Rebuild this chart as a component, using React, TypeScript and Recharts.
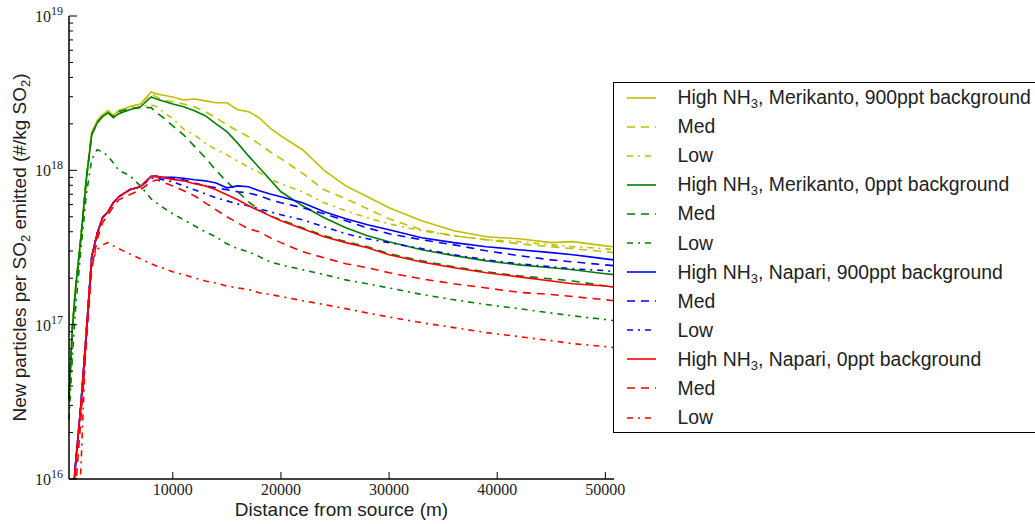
import { LineChart, Line, XAxis, YAxis, Legend, Label } from "recharts";

// distance from source (m)
const distance = [
  400, 700, 1000, 1500, 2000, 2500, 3000, 3500, 4000, 4500, 5000, 6000, 7000, 8000, 8500, 9000, 10000,
  11000, 12000, 13000, 14000, 15000, 16000, 17000, 18000, 19000, 20000, 22000, 24000, 26000, 28000,
  30000, 33000, 36000, 39000, 42000, 45000, 47000, 50000, 50800,
];

// Merikanto, 900ppt background
const merikanto900High = [
  3.27e16, 9.3e16, 1.69e17, 3.66e17, 8.74e17, 1.75e18, 2.09e18, 2.29e18, 2.43e18, 2.26e18, 2.43e18,
  2.58e18, 2.69e18, 3.22e18, 3.13e18, 3.08e18, 2.99e18, 2.86e18, 2.9e18, 2.82e18, 2.74e18, 2.74e18,
  2.47e18, 2.4e18, 2.19e18, 1.88e18, 1.67e18, 1.36e18, 1.0e18, 7.93e17, 6.74e17, 5.72e17, 4.71e17,
  4.06e17, 3.71e17, 3.6e17, 3.4e17, 3.45e17, 3.24e17, 3.2e17,
];
const merikanto900Med = [
  3.27e16, 9.3e16, 1.69e17, 3.66e17, 8.74e17, 1.75e18, 2.09e18, 2.29e18, 2.43e18, 2.26e18, 2.43e18,
  2.58e18, 2.69e18, 3.13e18, 2.99e18, 2.86e18, 2.78e18, 2.69e18, 2.58e18, 2.4e18, 2.19e18, 1.97e18,
  1.8e18, 1.65e18, 1.48e18, 1.32e18, 1.19e18, 9.56e17, 7.48e17, 6.54e17, 5.63e17, 4.85e17, 4.12e17,
  3.77e17, 3.55e17, 3.34e17, 3.2e17, 3.11e17, 2.97e17, 2.93e17,
];
const merikanto900Low = [
  3.27e16, 9.3e16, 1.69e17, 3.66e17, 8.74e17, 1.7e18, 2.03e18, 2.23e18, 2.36e18, 2.19e18, 2.33e18,
  2.47e18, 2.58e18, 2.65e18, 2.58e18, 2.43e18, 2.16e18, 1.85e18, 1.7e18, 1.5e18, 1.36e18, 1.26e18,
  1.15e18, 1.05e18, 9.7e17, 8.74e17, 8.18e17, 7.26e17, 6.16e17, 5.47e17, 4.93e17, 4.5e17, 4.06e17,
  3.77e17, 3.55e17, 3.45e17, 3.29e17, 3.2e17, 3.11e17, 3.06e17,
];

// Merikanto, 0ppt background
const merikanto0High = [
  3.27e16, 9.3e16, 1.69e17, 3.66e17, 8.74e17, 1.7e18, 2.03e18, 2.23e18, 2.36e18, 2.19e18, 2.33e18,
  2.47e18, 2.58e18, 2.99e18, 2.9e18, 2.82e18, 2.69e18, 2.58e18, 2.43e18, 2.26e18, 2.0e18, 1.78e18,
  1.5e18, 1.24e18, 1.04e18, 8.68e17, 7.26e17, 5.89e17, 4.93e17, 4.24e17, 3.77e17, 3.45e17, 3.06e17,
  2.8e17, 2.59e17, 2.44e17, 2.34e17, 2.27e17, 2.14e17, 2.11e17,
];
const merikanto0Med = [
  3.27e16, 9.3e16, 1.69e17, 3.66e17, 8.74e17, 1.7e18, 2.03e18, 2.23e18, 2.36e18, 2.23e18, 2.4e18,
  2.51e18, 2.55e18, 2.55e18, 2.36e18, 2.23e18, 1.94e18, 1.7e18, 1.43e18, 1.21e18, 1.0e18, 8.43e17,
  7.26e17, 6.25e17, 5.55e17, 5.07e17, 4.78e17, 4.24e17, 3.77e17, 3.45e17, 3.2e17, 2.88e17, 2.59e17,
  2.37e17, 2.2e17, 2.07e17, 1.98e17, 1.92e17, 1.78e17, 1.75e17,
];
const merikanto0Low = [
  2.43e16, 5.94e16, 1.25e17, 3.06e17, 6.94e17, 1.17e18, 1.36e18, 1.32e18, 1.23e18, 1.12e18, 1.0e18,
  9.28e17, 7.93e17, 6.54e17, 6.16e17, 5.8e17, 5.23e17, 4.78e17, 4.37e17, 4.0e17, 3.71e17, 3.34e17,
  3.11e17, 2.97e17, 2.76e17, 2.55e17, 2.44e17, 2.27e17, 2.11e17, 1.95e17, 1.84e17, 1.73e17, 1.57e17,
  1.45e17, 1.35e17, 1.27e17, 1.19e17, 1.14e17, 1.08e17, 1.06e17,
];

// Napari, 900ppt background
const napari900High = [
  4.05e15, 6.87e15, 1.24e16, 3.03e16, 8.88e16, 2.76e17, 3.88e17, 4.93e17, 5.39e17, 6.16e17, 6.74e17,
  7.48e17, 7.82e17, 9.14e17, 9.14e17, 9.0e17, 9.01e17, 8.88e17, 8.68e17, 8.55e17, 8.29e17, 7.7e17,
  7.93e17, 7.82e17, 7.37e17, 7.03e17, 6.74e17, 6.16e17, 5.39e17, 4.85e17, 4.44e17, 4.12e17, 3.66e17,
  3.4e17, 3.2e17, 3.06e17, 2.93e17, 2.84e17, 2.67e17, 2.63e17,
];
const napari900Med = [
  4.05e15, 6.87e15, 1.24e16, 3.03e16, 8.88e16, 2.76e17, 3.88e17, 4.93e17, 5.39e17, 6.16e17, 6.74e17,
  7.48e17, 7.82e17, 9.14e17, 9.14e17, 9.0e17, 8.88e17, 8.68e17, 8.29e17, 7.93e17, 7.7e17, 7.48e17,
  7.26e17, 7.14e17, 6.84e17, 6.44e17, 6.16e17, 5.72e17, 5.23e17, 4.71e17, 4.24e17, 3.88e17, 3.55e17,
  3.29e17, 3.01e17, 2.8e17, 2.63e17, 2.55e17, 2.44e17, 2.41e17,
];
const napari900Low = [
  4.05e15, 6.87e15, 1.24e16, 3.03e16, 8.88e16, 2.76e17, 3.88e17, 4.93e17, 5.39e17, 6.16e17, 6.74e17,
  7.48e17, 7.82e17, 8.88e17, 8.88e17, 8.74e17, 8.43e17, 7.93e17, 7.48e17, 7.03e17, 6.64e17, 6.34e17,
  6.06e17, 5.89e17, 5.63e17, 5.39e17, 5.15e17, 4.78e17, 4.31e17, 3.88e17, 3.6e17, 3.4e17, 3.11e17,
  2.84e17, 2.63e17, 2.48e17, 2.37e17, 2.3e17, 2.24e17, 2.2e17,
];

// Napari, 0ppt background
const napari0High = [
  4.05e15, 6.87e15, 1.24e16, 3.03e16, 8.88e16, 2.76e17, 3.88e17, 4.93e17, 5.39e17, 6.16e17, 6.74e17,
  7.48e17, 7.82e17, 9.14e17, 9.14e17, 9.0e17, 8.74e17, 8.55e17, 8.18e17, 7.93e17, 7.48e17, 6.94e17,
  6.44e17, 5.89e17, 5.47e17, 5.07e17, 4.71e17, 4.18e17, 3.71e17, 3.4e17, 3.15e17, 2.84e17, 2.55e17,
  2.34e17, 2.17e17, 2.04e17, 1.92e17, 1.84e17, 1.78e17, 1.75e17,
];
const napari0Med = [
  3.0e15, 4.7e15, 8.5e15, 2.43e16, 7.42e16, 2.27e17, 3.55e17, 4.57e17, 5.15e17, 5.8e17, 6.44e17,
  6.94e17, 7.48e17, 8.43e17, 8.68e17, 8.43e17, 7.93e17, 7.37e17, 6.84e17, 6.16e17, 5.55e17, 5.0e17,
  4.57e17, 4.18e17, 4.0e17, 3.66e17, 3.4e17, 2.97e17, 2.71e17, 2.48e17, 2.34e17, 2.17e17, 1.98e17,
  1.84e17, 1.73e17, 1.62e17, 1.57e17, 1.52e17, 1.45e17, 1.43e17,
];
const napari0Low = [
  1.65e15, 2.2e15, 3.5e15, 1.15e16, 9.29e16, 2.55e17, 3.06e17, 3.29e17, 3.4e17, 3.24e17, 3.11e17,
  2.88e17, 2.67e17, 2.48e17, 2.4e17, 2.34e17, 2.2e17, 2.11e17, 2.01e17, 1.92e17, 1.86e17, 1.78e17,
  1.73e17, 1.69e17, 1.61e17, 1.57e17, 1.52e17, 1.43e17, 1.35e17, 1.27e17, 1.19e17, 1.12e17, 1.03e17,
  9.57e16, 8.88e16, 8.37e16, 7.88e16, 7.53e16, 7.21e16, 7.1e16,
];

const X_TICKS = [10000, 20000, 30000, 40000, 50000];
const Y_TICKS = [
  1e16, 2e16, 3e16, 4e16, 5e16, 6e16, 7e16, 8e16, 9e16,
  1e17, 2e17, 3e17, 4e17, 5e17, 6e17, 7e17, 8e17, 9e17,
  1e18, 2e18, 3e18, 4e18, 5e18, 6e18, 7e18, 8e18, 9e18,
  1e19,
];

const YELLOW = "#bfbf00";
const GREEN = "#008000";
const BLUE = "#0000ff";
const RED = "#ff0000";
const DASHED = "8 6";
const DASHDOT = "6 5 2 5";

const SERIES = [
  { key: "m900h", label: "High NH3, Merikanto, 900ppt background", values: merikanto900High, color: YELLOW, dash: undefined },
  { key: "m900m", label: "Med", values: merikanto900Med, color: YELLOW, dash: DASHED },
  { key: "m900l", label: "Low", values: merikanto900Low, color: YELLOW, dash: DASHDOT },
  { key: "m0h", label: "High NH3, Merikanto, 0ppt background", values: merikanto0High, color: GREEN, dash: undefined },
  { key: "m0m", label: "Med", values: merikanto0Med, color: GREEN, dash: DASHED },
  { key: "m0l", label: "Low", values: merikanto0Low, color: GREEN, dash: DASHDOT },
  { key: "n900h", label: "High NH3, Napari, 900ppt background", values: napari900High, color: BLUE, dash: undefined },
  { key: "n900m", label: "Med", values: napari900Med, color: BLUE, dash: DASHED },
  { key: "n900l", label: "Low", values: napari900Low, color: BLUE, dash: DASHDOT },
  { key: "n0h", label: "High NH3, Napari, 0ppt background", values: napari0High, color: RED, dash: undefined },
  { key: "n0m", label: "Med", values: napari0Med, color: RED, dash: DASHED },
  { key: "n0l", label: "Low", values: napari0Low, color: RED, dash: DASHDOT },
];

const data = distance.map((d, i) => {
  const row: Record<string, number> = { d };
  SERIES.forEach((s) => {
    row[s.key] = s.values[i];
  });
  return row;
});

const SANS = "'Liberation Sans', Arial, sans-serif";
const SERIF = "'Liberation Serif', 'DejaVu Serif', serif";
const TEXT = "#222";

function isMajor(v: number) {
  const e = Math.log10(v);
  return Math.abs(e - Math.round(e)) < 1e-9;
}

function LeftTick(props: any) {
  const { x, y, payload } = props;
  const v = payload.value as number;
  const major = isMajor(v);
  return (
    <g>
      <line x1={x} y1={y} x2={x + (major ? 8 : 4)} y2={y} stroke="#000" strokeWidth={1} />
      {major && (
        <text x={x - 6} y={y + 6} textAnchor="end" fontFamily={SERIF} fontSize={16} fill={TEXT}>
          10
          <tspan dy={-7} fontSize={12}>
            {Math.round(Math.log10(v))}
          </tspan>
        </text>
      )}
    </g>
  );
}

function RightTick(props: any) {
  const { x, y, payload } = props;
  const major = isMajor(payload.value);
  return <line x1={x} y1={y} x2={x - (major ? 8 : 4)} y2={y} stroke="#000" strokeWidth={1} />;
}

function BottomTick(props: any) {
  const { x, y, payload } = props;
  return (
    <g>
      <line x1={x} y1={y} x2={x} y2={y - 7} stroke="#000" strokeWidth={1} />
      <text x={x} y={y + 16} textAnchor="middle" fontFamily={SERIF} fontSize={16} fill={TEXT}>
        {payload.value}
      </text>
    </g>
  );
}

function TopTick(props: any) {
  const { x, y } = props;
  return <line x1={x} y1={y} x2={x} y2={y + 7} stroke="#000" strokeWidth={1} />;
}

function XTitle(props: any) {
  const { x, y, width } = props.viewBox;
  return (
    <text x={x + width / 2} y={y + 37} textAnchor="middle" fontFamily={SANS} fontSize={19} fill={TEXT}>
      Distance from source (m)
    </text>
  );
}

function YTitle(props: any) {
  const { x, y, height } = props.viewBox;
  const cx = x + 26;
  const cy = y + height / 2;
  return (
    <text
      x={cx}
      y={cy}
      transform={`rotate(-90 ${cx} ${cy})`}
      textAnchor="middle"
      fontFamily={SANS}
      fontSize={19}
      fill={TEXT}
    >
      New particles per SO
      <tspan dy={4} fontSize={13}>2</tspan>
      <tspan dy={-4}> emitted (#/kg SO</tspan>
      <tspan dy={4} fontSize={13}>2</tspan>
      <tspan dy={-4}>)</tspan>
    </text>
  );
}

function renderLabel(label: string) {
  const i = label.indexOf("NH3");
  if (i < 0) return label;
  return (
    <>
      {label.slice(0, i)}NH<sub style={{ fontSize: 13, verticalAlign: "-4px", lineHeight: 0 }}>3</sub>
      {label.slice(i + 3)}
    </>
  );
}

function LegendBox() {
  return (
    <div
      style={{
        border: "1.5px solid #000",
        background: "#fff",
        width: 440,
        boxSizing: "border-box",
        fontFamily: SANS,
        fontSize: 19.4,
        color: TEXT,
      }}
    >
      {SERIES.map((s) => (
        <div key={s.key} style={{ height: 29.1, display: "flex", alignItems: "center" }}>
          <svg width={29} height={6} style={{ marginLeft: 12.5, marginRight: 22, flex: "none" }}>
            <line x1={0} y1={3} x2={29} y2={3} stroke={s.color} strokeWidth={1.6} strokeDasharray={s.dash} />
          </svg>
          <span style={{ whiteSpace: "nowrap" }}>{renderLabel(s.label)}</span>
        </div>
      ))}
    </div>
  );
}

export default function App() {
  return (
    <div
      style={{
        position: "absolute",
        left: 0,
        top: 0,
        width: 1035,
        height: 524,
        overflow: "hidden",
        background: "#fff",
      }}
    >
      <LineChart width={1035} height={524} data={data} margin={{ top: 16, right: 421, bottom: 0, left: 0 }}>
        <XAxis
          dataKey="d"
          type="number"
          domain={[400, 50800]}
          ticks={X_TICKS}
          interval={0}
          height={45}
          tickSize={0}
          tickMargin={0}
          tickLine={false}
          tick={(p: any) => <BottomTick {...p} />}
          axisLine={{ stroke: "#000", strokeWidth: 1.5 }}
        >
          <Label content={XTitle} />
        </XAxis>
        <XAxis
          xAxisId="top"
          orientation="top"
          dataKey="d"
          type="number"
          domain={[400, 50800]}
          allowDataOverflow
          ticks={X_TICKS}
          interval={0}
          height={0}
          tickSize={0}
          tickMargin={0}
          tickLine={false}
          tick={(p: any) => <TopTick {...p} />}
          axisLine={{ stroke: "#000", strokeWidth: 1.5 }}
        />
        <YAxis
          type="number"
          scale="log"
          domain={[1e16, 1e19]}
          allowDataOverflow
          ticks={Y_TICKS}
          interval={0}
          width={69}
          tickSize={0}
          tickMargin={0}
          tickLine={false}
          tick={(p: any) => <LeftTick {...p} />}
          axisLine={{ stroke: "#000", strokeWidth: 1.5 }}
        >
          <Label content={YTitle} />
        </YAxis>
        <YAxis
          yAxisId="right"
          orientation="right"
          type="number"
          scale="log"
          domain={[1e16, 1e19]}
          allowDataOverflow
          ticks={Y_TICKS}
          interval={0}
          width={0}
          tickSize={0}
          tickMargin={0}
          tickLine={false}
          tick={(p: any) => <RightTick {...p} />}
          axisLine={{ stroke: "#000", strokeWidth: 1.5 }}
        />
        <Legend
          layout="vertical"
          align="center"
          verticalAlign="middle"
          content={() => <LegendBox />}
          wrapperStyle={{ left: 613, top: 82, width: 440 }}
        />
        {SERIES.map((s) => (
          <Line
            key={s.key}
            dataKey={s.key}
            type="linear"
            stroke={s.color}
            strokeWidth={1.6}
            strokeDasharray={s.dash}
            dot={false}
            activeDot={false}
            isAnimationActive={false}
          />
        ))}
      </LineChart>
    </div>
  );
}
